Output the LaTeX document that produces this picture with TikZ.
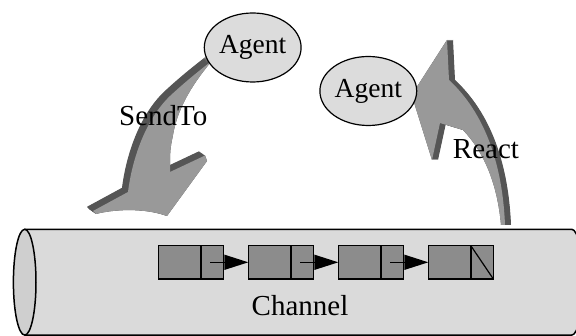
\documentclass[tikz,border=0pt]{standalone}
\usepackage{fontspec}
\setmainfont{Liberation Serif}
\usetikzlibrary{arrows.meta,shapes.geometric}

\definecolor{tubefill}{HTML}{DADADA}
\definecolor{tubeend}{HTML}{CFCFCF}
\definecolor{cellfill}{HTML}{8C8C8C}
\definecolor{arrowface}{HTML}{999999}
\definecolor{arrowside}{HTML}{555555}
\definecolor{agentfill}{HTML}{DCDCDC}

% outline of the curved "SendTo" block arrow (front face)
\newcommand\sendpath{(211.7,61) .. controls (196,80) and (178,105) .. (173,135)
  .. controls (170,150) .. (170,172) -- (205,155.5) -- (207,161) -- (167,216)
  .. controls (145,208) and (115,209) .. (96,214) -- (93,211) -- (128,192)
  .. controls (132,160) and (145,120) .. (170,96)
  .. controls (185,82) and (200,70) .. (211.7,61) -- cycle}

% outline of the curved "React" block arrow (front face)
\newcommand\reactpath{(411.7,95) -- (432,160) -- (440,123) -- (463,130)
  .. controls (482,150) and (497,180) .. (501,225) -- (505,225)
  .. controls (503,175) and (490,118) .. (449,80) -- (447,40) -- cycle}

\begin{document}
\begin{tikzpicture}[x=1pt,y=-1pt,
  outline/.style={draw=black,line width=1.4pt},
  datacell/.style={outline,fill=cellfill,minimum width=42.5pt,minimum height=33.3pt,
    inner sep=0pt,outer sep=0pt,anchor=west},
  ptrcell/.style={outline,fill=cellfill,minimum width=22.5pt,minimum height=33.3pt,
    inner sep=0pt,outer sep=0pt,anchor=west},
  link/.style={line width=1.4pt,-{Triangle[length=24pt,width=15pt]}},
  agent/.style={ellipse,draw=black,line width=1.2pt,fill=agentfill,inner sep=0pt,
    minimum width=96.8pt,minimum height=69pt,font=\fontsize{27.5}{29}\selectfont},
  caption/.style={inner sep=0pt,anchor=base,font=\fontsize{29}{31}\selectfont}
]
\useasboundingbox (0,0) rectangle (576,336);

% the channel tube
\begin{scope}
  \clip (0,0) rectangle (576,336);
  \fill[tubefill] (24.7,229.3) -- (571.7,229.3)
    arc[start angle=-90,end angle=90,x radius=11.3,y radius=52.9] -- (24.7,335.1) -- cycle;
  \draw[line width=1.5pt] (24.7,229.3) -- (571.7,229.3)
    arc[start angle=-90,end angle=90,x radius=11.3,y radius=52.9] -- (24.7,335.1);
  \draw[line width=1.5pt,fill=tubeend] (24.7,282.2) ellipse[x radius=11.3,y radius=52.9];
\end{scope}

% linked list inside the channel
\foreach \i/\x in {1/158.3,2/248.3,3/338.3,4/428.3}{
  \node[datacell] (d\i) at (\x,262.3) {};
  \node[ptrcell] (p\i) at (d\i.east) {};
}
\draw[link] ([xshift=-2pt]p1.center) -- (d2.west);
\draw[link] ([xshift=-2pt]p2.center) -- (d3.west);
\draw[link] ([xshift=-2pt]p3.center) -- (d4.west);
\draw[line width=1.2pt] (p4.north west) -- (p4.south east);

% block arrows: extruded side first, then the front face
\foreach \k in {0,0.5,...,6}{
  \fill[arrowside,shift={({-\k},{-0.7*\k})}] \sendpath;
  \fill[arrowside,shift={({\k},0)}] \reactpath;
}
\fill[arrowface] \sendpath;
\fill[arrowface] \reactpath;

% agents
\node[agent] (a1) at (252.7,47.5) {Agent};
\node[agent] (a2) at (368.3,91) {Agent};

% labels
\node[caption] (send) at (163.3,126) {SendTo};
\node[caption] (react) at (486,158.3) {React};
\node[caption] (chan) at (300,316) {Channel};
\end{tikzpicture}
\end{document}
